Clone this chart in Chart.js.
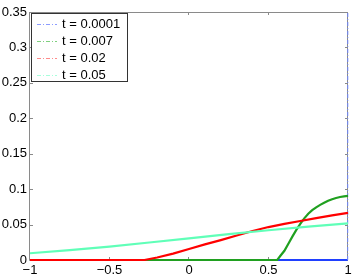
<!DOCTYPE html>
<html>
<head>
<meta charset="utf-8">
<script src="https://cdn.jsdelivr.net/npm/chart.js@4/dist/chart.umd.min.js"></script>
<style>
  html, body { margin: 0; padding: 0; background: #fff; }
  canvas { display: block; }
</style>
</head>
<body>
<canvas id="plot" width="355" height="277"></canvas>
<script>
// axis ticks
const xTicks = [-1, -0.5, 0, 0.5, 1];
const yTicks = [0, 0.05, 0.1, 0.15, 0.2, 0.25, 0.3, 0.35];

// series
const seriesLabels = ['t = 0.0001', 't = 0.007', 't = 0.02', 't = 0.05'];
const seriesColors = ['#2040ff', '#20a020', '#ff0000', '#60ffb8'];
const legendColors = ['#8c9cff', '#7fd07f', '#ff8a8a', '#a8ffdc'];

const x_t1 = [-1, 0.998, 1];
const y_t1 = [0, 0, 1];

const x_t2 = [-1, 0.555, 0.575, 0.6, 0.625, 0.65, 0.675, 0.7, 0.725, 0.75, 0.775, 0.8, 0.825, 0.85, 0.875, 0.9, 0.925, 0.95, 0.975, 1];
const y_t2 = [0, 0, 0.006, 0.013, 0.023, 0.033, 0.0425, 0.051, 0.0588, 0.0652, 0.0703, 0.0743, 0.0778, 0.0808, 0.0835, 0.0857, 0.0875, 0.0889, 0.0899, 0.0904];

const x_t3 = [-1, -0.28, -0.2, -0.1, 0, 0.1, 0.2, 0.3, 0.4, 0.5, 0.6, 0.7, 0.8, 0.9, 1];
const y_t3 = [0, 0, 0.0035, 0.009, 0.0155, 0.022, 0.028, 0.0345, 0.041, 0.0465, 0.051, 0.055, 0.059, 0.063, 0.0666];

const x_t4 = [-1, -0.75, -0.5, -0.25, 0, 0.25, 0.5, 0.75, 1];
const y_t4 = [0.0095, 0.014, 0.0188, 0.0247, 0.0306, 0.0365, 0.042, 0.047, 0.0517];

const FONT = 'Liberation Sans, Arial, Helvetica, sans-serif';

function pts(xs, ys) {
    return xs.map((x, i) => ({ x: x, y: ys[i] }));
}

function fmt(v) {
    let s = String(Number(v.toFixed(2)));
    if (v < 0) s = '\u2212' + s.slice(1);
    return s;
}

// box around plot with inward ticks (matlab style)
const boxPlugin = {
    id: 'box',
    beforeDatasetsDraw(chart) {
        const ctx = chart.ctx;
        const a = chart.chartArea;
        const xs = chart.scales.x, ys = chart.scales.y;
        ctx.save();
        ctx.strokeStyle = '#8a8a8a';
        ctx.lineWidth = 1;
        ctx.beginPath();
        ctx.rect(Math.round(a.left) - 0.5, Math.round(a.top) + 0.5,
                 Math.round(a.right - a.left), Math.round(a.bottom - a.top));
        xTicks.forEach(v => {
            const px = Math.round(xs.getPixelForValue(v)) - 0.5;
            ctx.moveTo(px, a.bottom); ctx.lineTo(px, a.bottom - 3);
            ctx.moveTo(px, a.top); ctx.lineTo(px, a.top + 3);
        });
        yTicks.forEach(v => {
            const py = Math.round(ys.getPixelForValue(v)) + 0.5;
            ctx.moveTo(a.left, py); ctx.lineTo(a.left + 3, py);
            ctx.moveTo(a.right, py); ctx.lineTo(a.right - 3, py);
        });
        ctx.stroke();
        ctx.restore();
    }
};

const legendPlugin = {
    id: 'boxLegend',
    afterDatasetsDraw(chart) {
        const ctx = chart.ctx;
        ctx.save();
        ctx.fillStyle = '#fff';
        ctx.fillRect(31, 13, 97, 69);
        ctx.strokeStyle = '#333';
        ctx.lineWidth = 1;
        ctx.strokeRect(31.5, 13.5, 96, 68);
        ctx.font = '13px ' + FONT;
        ctx.textBaseline = 'middle';
        seriesLabels.forEach((lab, i) => {
            const y = Math.round(23.5 + i * 17) + 0.5;
            ctx.strokeStyle = legendColors[i];
            ctx.setLineDash([4, 2, 1, 2]);
            ctx.beginPath();
            ctx.moveTo(37, y); ctx.lineTo(57, y);
            ctx.stroke();
            ctx.setLineDash([]);
            ctx.fillStyle = '#000';
            ctx.fillText(lab, 62, y);
        });
        ctx.restore();
    }
};

const allX = [x_t1, x_t2, x_t3, x_t4];
const allY = [y_t1, y_t2, y_t3, y_t4];

const datasets = seriesLabels.map((lab, i) => ({
    label: lab,
    data: pts(allX[i], allY[i]),
    borderColor: seriesColors[i],
    borderWidth: 2.2,
    pointRadius: 0,
    fill: false,
    tension: 0,
    order: 4 - i,
    clip: { left: 1, top: 0, right: 2, bottom: 3 }
}));

// last blue segment is the long vertical one, dash-dot shows there
datasets[0].segment = {
    borderDash: c => c.p1DataIndex === x_t1.length - 1 ? [4, 2, 1, 2] : undefined,
    borderWidth: c => c.p1DataIndex === x_t1.length - 1 ? 1 : undefined,
    borderColor: c => c.p1DataIndex === x_t1.length - 1 ? '#7088ff' : undefined
};

var myChart = new Chart(document.getElementById('plot').getContext('2d'), {
    type: 'line',
    data: { datasets: datasets },
    options: {
        responsive: false,
        animation: false,
        layout: { padding: { top: 12, right: 7, left: 0, bottom: 0 } },
        plugins: { legend: { display: false }, tooltip: { enabled: false } },
        scales: {
            x: {
                type: 'linear',
                min: -1,
                max: 1,
                afterBuildTicks: s => { s.ticks = xTicks.map(v => ({ value: v })); },
                afterFit: s => { s.height = 17; },
                grid: { display: false, drawTicks: false },
                border: { display: false },
                ticks: {
                    padding: 3,
                    color: '#000',
                    font: { family: FONT, size: 13 },
                    maxRotation: 0,
                    callback: v => fmt(v)
                }
            },
            y: {
                type: 'linear',
                min: 0,
                max: 0.35,
                afterBuildTicks: s => { s.ticks = yTicks.map(v => ({ value: v })); },
                afterFit: s => { s.width = 30; },
                grid: { display: false, drawTicks: false },
                border: { display: false },
                ticks: {
                    padding: 3,
                    color: '#000',
                    font: { family: FONT, size: 13 },
                    callback: v => fmt(v)
                }
            }
        }
    },
    plugins: [boxPlugin, legendPlugin]
});
</script>
</body>
</html>
